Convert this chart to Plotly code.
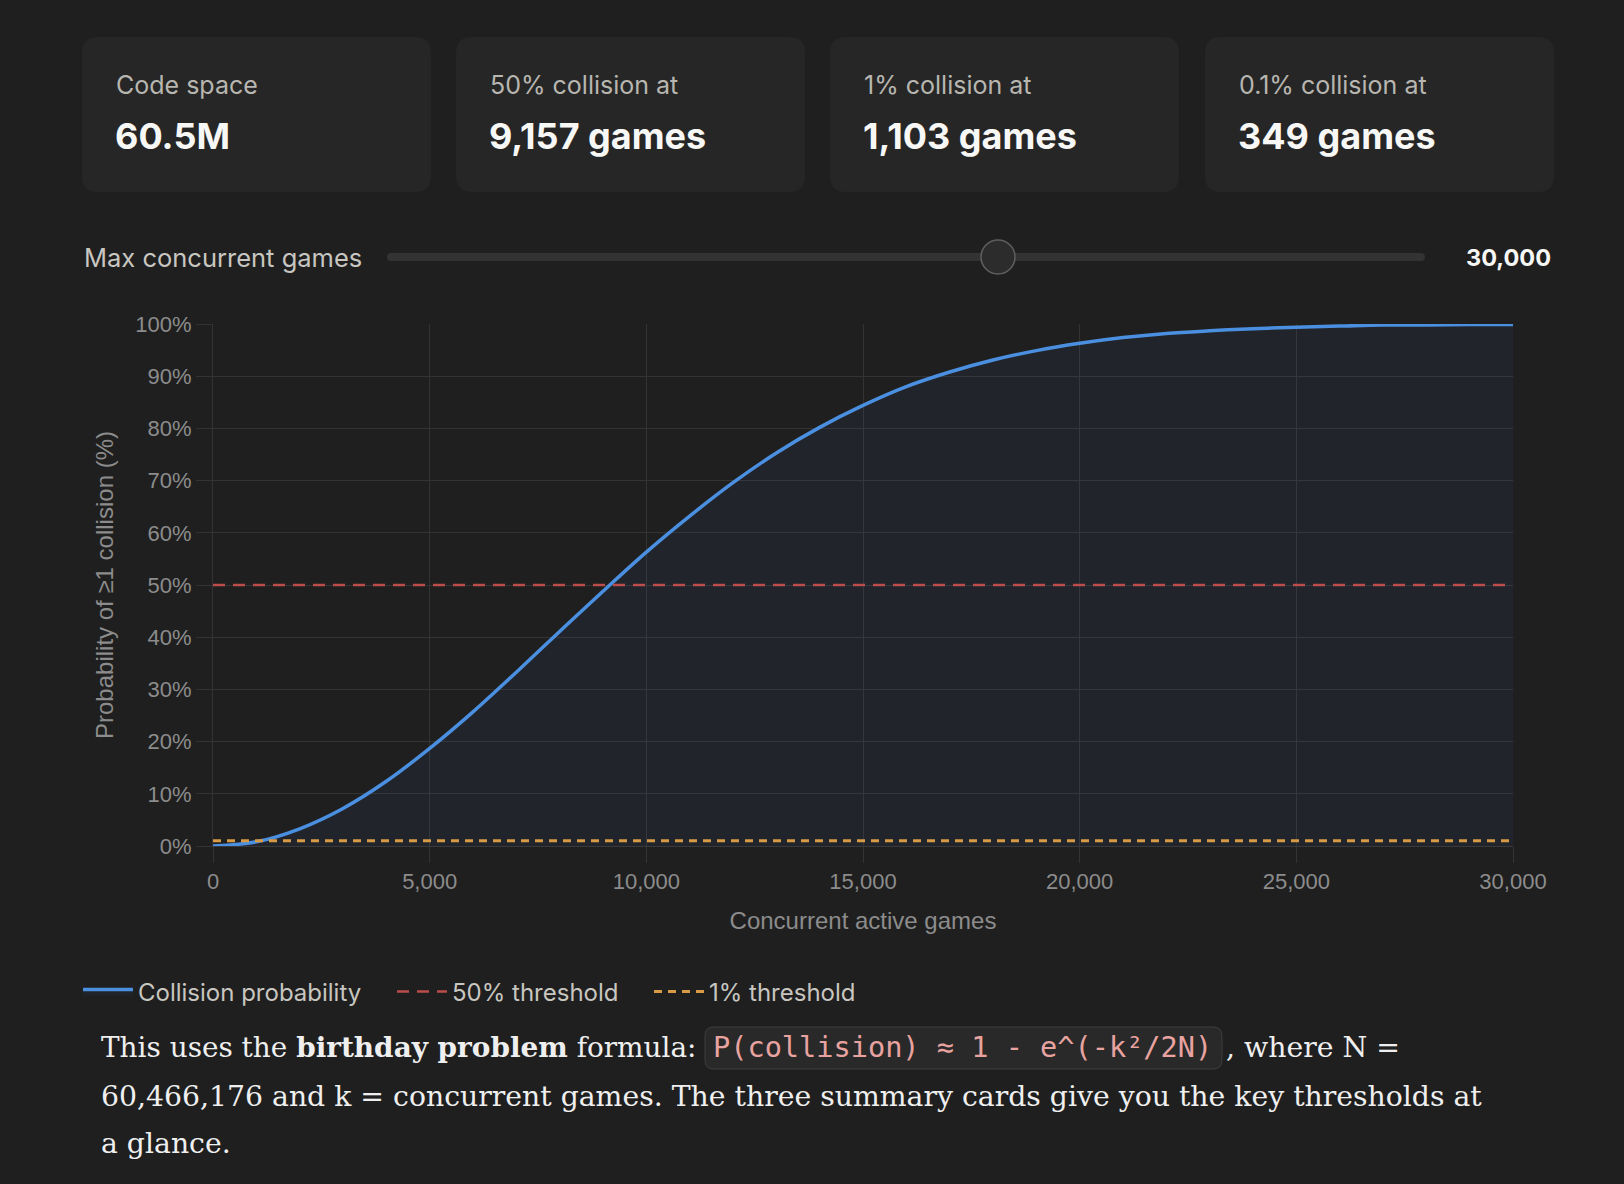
import plotly.graph_objects as go

# ---------------- data ----------------
games = [0, 1000, 2000, 3000, 4000, 5000, 6000, 7000, 8000, 9000, 10000,
         11000, 12000, 13000, 14000, 15000, 16000, 17000, 18000, 19000, 20000,
         21000, 22000, 23000, 24000, 25000, 26000, 27000, 28000, 29000, 30000]
collision_pct = [0.0, 0.8, 3.3, 7.2, 12.4, 18.7, 25.7, 33.3, 41.1, 48.8, 56.3,
                 63.2, 69.6, 75.3, 80.2, 84.4, 88.0, 90.8, 93.1, 94.9, 96.3,
                 97.4, 98.2, 98.7, 99.1, 99.4, 99.6, 99.8, 99.8, 99.9, 99.9]
threshold_x = [0, 30000]
threshold_50 = [50, 50]
threshold_1 = [1, 1]

card_labels = ["Code space", "50% collision at", "1% collision at", "0.1% collision at"]
card_values = ["60.5M", "9,157 games", "1,103 games", "349 games"]
slider_label = "Max concurrent games"
slider_value = "30,000"
x_ticks = [0, 5000, 10000, 15000, 20000, 25000, 30000]
x_tick_text = ["0", "5,000", "10,000", "15,000", "20,000", "25,000", "30,000"]
y_ticks = [0, 10, 20, 30, 40, 50, 60, 70, 80, 90, 100]
y_tick_text = ["0%", "10%", "20%", "30%", "40%", "50%", "60%", "70%", "80%", "90%", "100%"]

# ---------------- geometry helpers ----------------
W, H = 1624, 1184
PL, PR, PT, PB = 213, 1513, 324, 846


def px(x):
    return (x - PL) / (PR - PL)


def py(y):
    return (PB - y) / (PB - PT)


def rounded(x0, y0, x1, y1, r):
    pts = [
        ("M", (x0 + r, y0)), ("L", (x1 - r, y0)), ("Q", (x1, y0), (x1, y0 + r)),
        ("L", (x1, y1 - r)), ("Q", (x1, y1), (x1 - r, y1)),
        ("L", (x0 + r, y1)), ("Q", (x0, y1), (x0, y1 - r)),
        ("L", (x0, y0 + r)), ("Q", (x0, y0), (x0 + r, y0)),
    ]
    s = ""
    for p in pts:
        cmd = p[0]
        coords = " ".join(f"{px(a):.5f},{py(b):.5f}" for a, b in p[1:])
        s += f"{cmd} {coords} "
    return s + "Z"


BG = "#1f1f1f"
UI_FONT = "Inter"
GRID = "#333333"
TICK = "#8c8c8c"

fig = go.Figure()

fig.add_trace(go.Scatter(
    x=games, y=collision_pct, mode="lines", name="Collision probability",
    line=dict(color="#4a8fe0", width=3.5, shape="spline"),
    fill="tozeroy", fillcolor="rgba(70,120,210,0.07)", legendwidth=249,
))
fig.add_trace(go.Scatter(
    x=threshold_x, y=threshold_50, mode="lines", name="50% threshold",
    line=dict(color="#bb4e4b", width=2.5, dash="12px,8px"), legendwidth=192,
))
fig.add_trace(go.Scatter(
    x=threshold_x, y=threshold_1, mode="lines", name="1% threshold",
    line=dict(color="#d89a45", width=3, dash="8px,6px"), legendwidth=180,
))

shapes = []
annotations = []

# summary cards
card_x = [82, 456, 830, 1205]
for cx, lab, val in zip(card_x, card_labels, card_values):
    shapes.append(dict(type="path", xref="paper", yref="paper",
                       path=rounded(cx, 37, cx + 349, 192, 16),
                       fillcolor="#262626", line=dict(width=0), layer="below"))
    annotations.append(dict(xref="paper", yref="paper", x=px(cx + 32), y=py(85),
                            xanchor="left", yanchor="middle", showarrow=False,
                            text=lab, font=dict(family=UI_FONT, size=25, color="#b8b6b0")))
    annotations.append(dict(xref="paper", yref="paper", x=px(cx + 31), y=py(136),
                            xanchor="left", yanchor="middle", showarrow=False,
                            text=f"<b>{val}</b>",
                            font=dict(family=UI_FONT, size=36, color="#f7f7f5")))

# slider row
annotations.append(dict(xref="paper", yref="paper", x=px(82), y=py(257),
                        xanchor="left", yanchor="middle", showarrow=False,
                        text=slider_label, font=dict(family=UI_FONT, size=25.5, color="#c8c6c0")))
annotations.append(dict(xref="paper", yref="paper", x=px(1553), y=py(257),
                        xanchor="right", yanchor="middle", showarrow=False,
                        text=f"<b>{slider_value}</b>",
                        font=dict(family=UI_FONT, size=23.5, color="#f7f7f5")))
shapes.append(dict(type="path", xref="paper", yref="paper",
                   path=rounded(387, 253, 1425, 261, 4),
                   fillcolor="#333333", line=dict(width=0), layer="above"))
shapes.append(dict(type="circle", xref="paper", yref="paper",
                   x0=px(998 - 17), x1=px(998 + 17), y0=py(257 + 17), y1=py(257 - 17),
                   fillcolor="#2c2c2c", line=dict(color="#5f5f5f", width=1.5), layer="above"))

# explanatory paragraph
SERIF = "DejaVu Serif"
TXT = "#efefef"
PSIZE = 28.3
annotations.append(dict(xref="paper", yref="paper", x=px(99), y=py(1047),
                        xanchor="left", yanchor="middle", showarrow=False,
                        text="This uses the <b>birthday problem</b> formula:",
                        font=dict(family=SERIF, size=27.9, color=TXT)))
shapes.append(dict(type="path", xref="paper", yref="paper",
                   path=rounded(705, 1027, 1222, 1069, 9),
                   fillcolor="#292929", line=dict(color="#3f3f3f", width=1), layer="above"))
annotations.append(dict(xref="paper", yref="paper", x=px(963), y=py(1047),
                        xanchor="center", yanchor="middle", showarrow=False,
                        text="P(collision) ≈ 1 - e^(-k²/2N)",
                        font=dict(family="DejaVu Sans Mono", size=28.6, color="#e8a3a0")))
annotations.append(dict(xref="paper", yref="paper", x=px(1224), y=py(1047),
                        xanchor="left", yanchor="middle", showarrow=False,
                        text=", where N =",
                        font=dict(family=SERIF, size=PSIZE, color=TXT)))
annotations.append(dict(xref="paper", yref="paper", x=px(99), y=py(1096),
                        xanchor="left", yanchor="middle", showarrow=False,
                        text="60,466,176 and k = concurrent games. The three summary cards give you the key thresholds at",
                        font=dict(family=SERIF, size=PSIZE, color=TXT)))
annotations.append(dict(xref="paper", yref="paper", x=px(99), y=py(1143),
                        xanchor="left", yanchor="middle", showarrow=False,
                        text="a glance.",
                        font=dict(family=SERIF, size=PSIZE, color=TXT)))

fig.update_layout(
    width=W, height=H,
    margin=dict(l=PL, r=W - PR, t=PT, b=H - PB, pad=0),
    paper_bgcolor=BG, plot_bgcolor=BG,
    shapes=shapes, annotations=annotations,
    showlegend=True,
    legend=dict(orientation="h", xref="container", yref="container",
                x=78 / W, y=1 - 992 / H, xanchor="left", yanchor="middle",
                font=dict(family=UI_FONT, size=24, color="#c8c6c0"),
                bgcolor="rgba(0,0,0,0)", itemwidth=50),
    xaxis=dict(range=[0, 30000], tickvals=x_ticks, ticktext=x_tick_text,
               showgrid=True, gridcolor=GRID, gridwidth=1,
               ticks="outside", ticklen=16, tickcolor=GRID,
               showline=True, linecolor="#3a3a3a", linewidth=1, zeroline=False,
               tickfont=dict(family="Liberation Sans", size=22, color=TICK),
               title=dict(text="Concurrent active games", standoff=18,
                          font=dict(family="Liberation Sans", size=24, color=TICK))),
    yaxis=dict(range=[0, 100], tickvals=y_ticks, ticktext=y_tick_text,
               showgrid=True, gridcolor=GRID, gridwidth=1,
               ticks="outside", ticklen=16, tickcolor=GRID,
               showline=True, linecolor=GRID, linewidth=1, zeroline=False,
               tickfont=dict(family="Liberation Sans", size=22, color=TICK),
               title=dict(text="Probability of ≥1 collision (%)", standoff=14,
                          font=dict(family="Liberation Sans", size=24, color=TICK))),
)

fig.write_html("out.html")
